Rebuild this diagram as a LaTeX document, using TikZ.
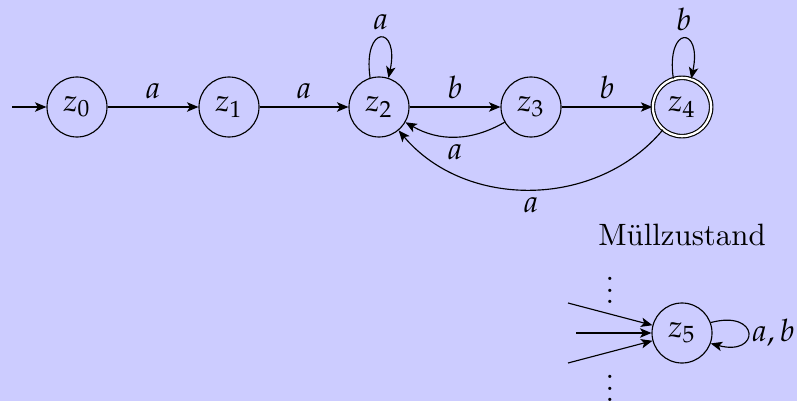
\documentclass[tikz,border=0pt]{standalone}
\usepackage{mathpazo}
\usetikzlibrary{arrows.meta}
\definecolor{bg}{RGB}{204,204,255}
\begin{document}
\begin{tikzpicture}[x=0.35pt,y=0.35pt,
  every node/.style={font=\fontsize{10.8pt}{13pt}\selectfont},
  state/.style={circle,draw,minimum size=21pt,inner sep=0pt},
  accept/.style={circle,draw,minimum size=20.4pt,inner sep=0pt,double,double distance=0.8pt},
  >={Stealth[length=4pt,width=3.3pt,inset=1pt]},
  lbl/.style={inner sep=2.5pt}]
\fill[bg] (0,0) rectangle (797,401);
\useasboundingbox (0,0) rectangle (797,401);
% states
\node[state] (z0) at (77,294) {$z_0$};
\node[state] (z1) at (229,294) {$z_1$};
\node[state] (z2) at (379,294) {$z_2$};
\node[state] (z3) at (531,294) {$z_3$};
\node[accept] (z4) at (682,294) {$z_4$};
\node[state] (z5) at (682,68) {$z_5$};
\coordinate (start) at (12,294);
% transitions
\draw[->] (start) -- (z0);
\draw[->] (z0) -- node[above,lbl] (l01) {$a$} (z1);
\draw[->] (z1) -- node[above,lbl] (l12) {$a$} (z2);
\draw[->] (z2) -- node[above,lbl] (l23) {$b$} (z3);
\draw[->] (z3) -- node[above,lbl] (l34) {$b$} (z4);
\draw[->] (z2.107) .. controls +(98:19pt) and +(78:19pt) .. (z2.72)
  node[pos=0.5,above,lbl] (l22) {$a$};
\draw[->] (z4.107) .. controls +(98:19pt) and +(78:19pt) .. (z4.72)
  node[pos=0.5,above,lbl] (l44) {$b$};
\draw[->] (z3) to[bend left=30] node[below,lbl] (l32) {$a$} (z2);
\draw[->] (z4) to[bend left=50] node[below,lbl] (l42) {$a$} (z2);
% garbage state
\node (mz) at (682,166) {M\"ullzustand};
\coordinate (i1) at (568,98);
\coordinate (i2) at (576,68);
\coordinate (i3) at (568,38);
\draw[->] (i1) -- (z5);
\draw[->] (i2) -- (z5);
\draw[->] (i3) -- (z5);
\node[anchor=base,inner sep=0pt] (d1) at (610,97.4) {$\vdots$};
\node[anchor=base,inner sep=0pt] (d2) at (610,-0.6) {$\vdots$};
\draw[->] (z5.20) .. controls +(15:18pt) and +(-15:18pt) .. (z5.-20)
  node[pos=0.5,right,inner sep=1.2pt] (l55) {$a,b$};
\end{tikzpicture}
\end{document}
